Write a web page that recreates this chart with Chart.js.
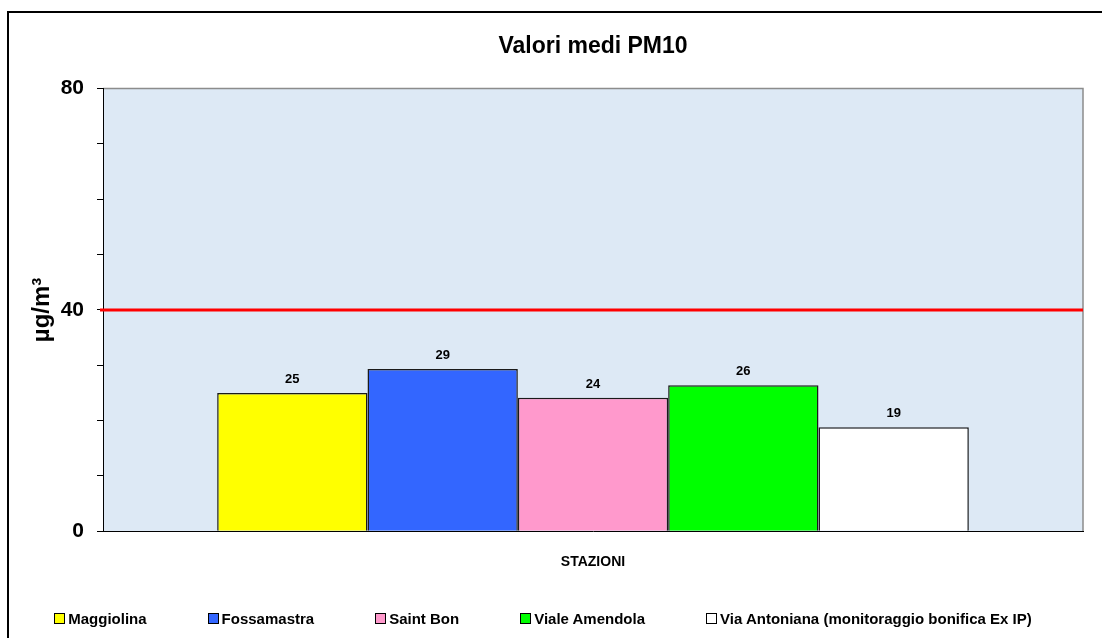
<!DOCTYPE html>
<html>
<head>
<meta charset="utf-8">
<script src="https://cdn.jsdelivr.net/npm/chart.js@4/dist/chart.umd.min.js"></script>
<style>
  body { margin: 0; background: #fff; font-family: Arial, "Liberation Sans", sans-serif; }
  #wrap { position: relative; width: 1102px; height: 638px; overflow: hidden; }
  #legend { position: absolute; left: 0; top: 610px; width: 1102px; box-sizing: border-box; padding-right: 16px;
            display: flex; justify-content: center; gap: 61px; font: bold 15px Arial, "Liberation Sans", sans-serif; color: #000; }
  #legend .item { display: flex; align-items: center; white-space: nowrap; }
  #legend .box { width: 9px; height: 9px; border: 1px solid #000; margin-right: 3px; }
</style>
</head>
<body>
<div id="wrap">
  <canvas id="pm10Chart" width="1102" height="638"></canvas>
  <div id="legend"></div>
</div>
<script>
const stations = ['Maggiolina', 'Fossamastra', 'Saint Bon', 'Viale Amendola', 'Via Antoniana (monitoraggio bonifica Ex IP)'];
const pm10Values = [25, 29.3, 24.1, 26.4, 18.8];
const barColors = ['#ffff00', '#3366ff', '#ff99cc', '#00ff00', '#ffffff'];
const limitValue = 40;
const yLabeledTicks = [0, 40, 80];

// sfondo area grafico, cornice esterna
const backgroundPlugin = {
    id: 'plotBackground',
    beforeDraw(chart) {
        const { ctx, chartArea } = chart;
        ctx.save();
        ctx.fillStyle = '#dde9f5';
        ctx.fillRect(chartArea.left, chartArea.top, chartArea.right - chartArea.left, chartArea.bottom - chartArea.top);
        ctx.strokeStyle = '#8c8c8c';
        ctx.lineWidth = 1.5;
        ctx.beginPath();
        ctx.moveTo(chartArea.left, chartArea.top);
        ctx.lineTo(chartArea.right, chartArea.top);
        ctx.lineTo(chartArea.right, chartArea.bottom);
        ctx.stroke();
        ctx.strokeStyle = '#000';
        ctx.lineWidth = 2;
        ctx.beginPath();
        ctx.moveTo(8, 640);
        ctx.lineTo(8, 12);
        ctx.lineTo(1104, 12);
        ctx.stroke();
        ctx.restore();
    }
};

// linea limite e valori sopra le barre
const overlayPlugin = {
    id: 'overlay',
    afterDatasetsDraw(chart) {
        const { ctx, chartArea } = chart;
        const y = chart.scales.y.getPixelForValue(limitValue);
        ctx.save();
        ctx.strokeStyle = '#ff0000';
        ctx.lineWidth = 3;
        ctx.beginPath();
        ctx.moveTo(chartArea.left - 3, y);
        ctx.lineTo(chartArea.right, y);
        ctx.stroke();

        ctx.fillStyle = '#000';
        ctx.font = 'bold 13px Arial, "Liberation Sans", sans-serif';
        ctx.textAlign = 'center';
        ctx.textBaseline = 'bottom';
        chart.data.datasets.forEach((ds, i) => {
            const bar = chart.getDatasetMeta(i).data[0];
            ctx.fillText(Math.round(ds.data[0]), bar.x, bar.y - 7);
        });
        ctx.restore();
    }
};

const datasets = stations.map((name, i) => ({
    label: name,
    data: [pm10Values[i]],
    backgroundColor: barColors[i],
    borderColor: '#1a1a1a',
    borderWidth: 1.5,
    categoryPercentage: 0.767,
    barPercentage: 1
}));

new Chart(document.getElementById('pm10Chart'), {
    type: 'bar',
    data: { labels: [''], datasets: datasets },
    plugins: [backgroundPlugin, overlayPlugin],
    options: {
        responsive: false,
        animation: false,
        layout: { padding: { left: 0, right: 19, top: 0, bottom: 67 } },
        plugins: {
            legend: { display: false },
            tooltip: { enabled: false },
            title: {
                display: true,
                text: 'Valori medi PM10',
                fullSize: false,
                color: '#000',
                font: { family: 'Arial, "Liberation Sans", sans-serif', size: 23, weight: 'bold' },
                padding: { top: 33, bottom: 28 }
            }
        },
        scales: {
            x: {
                grid: { display: false },
                ticks: { display: false },
                border: { display: true, color: '#000', width: 1 },
                title: {
                    display: true,
                    text: 'STAZIONI',
                    color: '#000',
                    font: { family: 'Arial, "Liberation Sans", sans-serif', size: 14, weight: 'bold' },
                    padding: { top: 15, bottom: 0 }
                }
            },
            y: {
                min: 0,
                max: 80,
                afterFit(scale) { scale.width = 103; },
                ticks: {
                    stepSize: 10,
                    padding: 13,
                    color: '#000',
                    font: { family: 'Arial, "Liberation Sans", sans-serif', size: 21, weight: 'bold' },
                    callback: v => yLabeledTicks.includes(v) ? v : ''
                },
                grid: { drawOnChartArea: false, drawTicks: true, tickLength: 6, color: '#000' },
                border: { display: true, color: '#000', width: 1 },
                title: {
                    display: true,
                    text: 'µg/m³',
                    color: '#000',
                    font: { family: 'Arial, "Liberation Sans", sans-serif', size: 24, weight: 'bold' },
                    padding: { top: 28, bottom: 0 }
                }
            }
        }
    }
});

// legenda sotto il grafico
const legendDiv = document.getElementById('legend');
stations.forEach((name, i) => {
    const item = document.createElement('div');
    item.className = 'item';
    const box = document.createElement('span');
    box.className = 'box';
    box.style.background = barColors[i];
    const txt = document.createElement('span');
    txt.textContent = name;
    item.appendChild(box);
    item.appendChild(txt);
    legendDiv.appendChild(item);
});
</script>
</body>
</html>
